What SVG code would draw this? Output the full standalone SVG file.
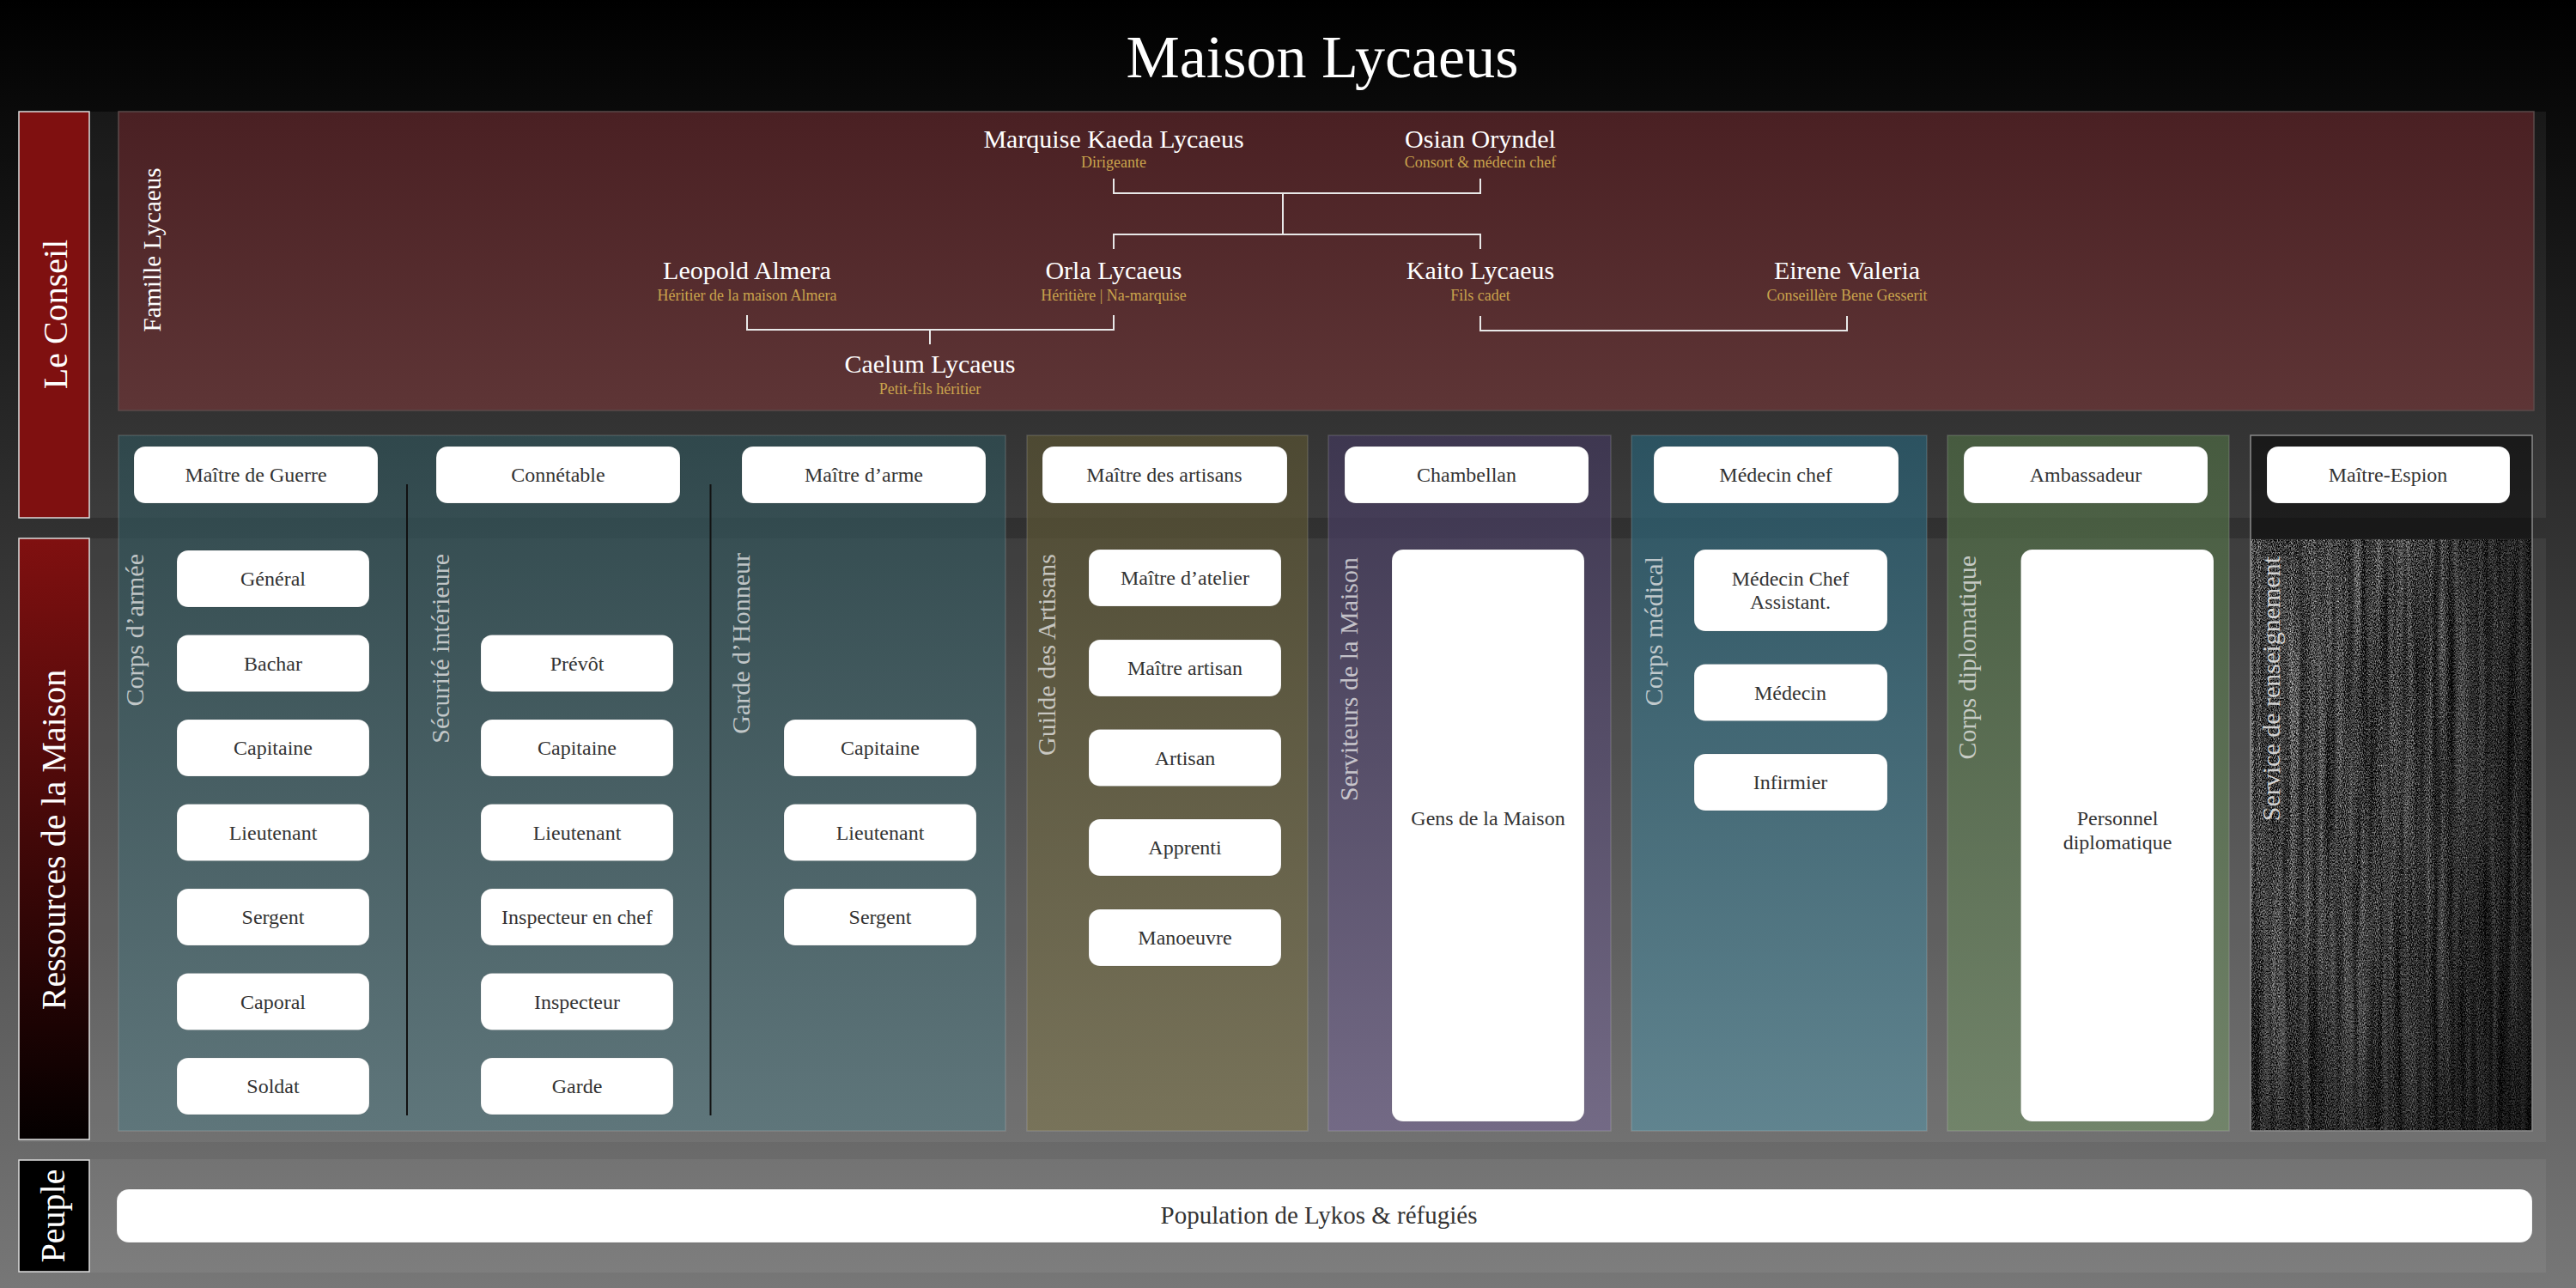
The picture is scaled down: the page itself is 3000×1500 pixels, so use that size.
<svg xmlns="http://www.w3.org/2000/svg" width="3000" height="1500" viewBox="0 0 3000 1500">
<defs>
  <linearGradient id="bg" gradientUnits="userSpaceOnUse" x1="0" y1="0" x2="0" y2="1500">
    <stop offset="0" stop-color="#000"/><stop offset="1" stop-color="#777"/>
  </linearGradient>
  <linearGradient id="fam" gradientUnits="userSpaceOnUse" x1="0" y1="130" x2="0" y2="478">
    <stop offset="0" stop-color="#4a2023"/><stop offset="1" stop-color="#5e3536"/>
  </linearGradient>
  <linearGradient id="resbar" gradientUnits="userSpaceOnUse" x1="0" y1="627" x2="0" y2="1327">
    <stop offset="0" stop-color="#801010"/><stop offset="1" stop-color="#040000"/>
  </linearGradient>
  <linearGradient id="gMil" gradientUnits="userSpaceOnUse" x1="0" y1="507" x2="0" y2="1317">
    <stop offset="0" stop-color="rgb(46,80,86)" stop-opacity="0.7"/><stop offset="1" stop-color="rgb(87,120,127)" stop-opacity="0.7"/>
  </linearGradient>
  <linearGradient id="gArt" gradientUnits="userSpaceOnUse" x1="0" y1="507" x2="0" y2="1317">
    <stop offset="0" stop-color="rgb(88,82,50)" stop-opacity="0.7"/><stop offset="1" stop-color="rgb(123,116,80)" stop-opacity="0.7"/>
  </linearGradient>
  <linearGradient id="gServ" gradientUnits="userSpaceOnUse" x1="0" y1="507" x2="0" y2="1317">
    <stop offset="0" stop-color="rgb(66,56,92)" stop-opacity="0.7"/><stop offset="1" stop-color="rgb(116,103,142)" stop-opacity="0.7"/>
  </linearGradient>
  <linearGradient id="gMed" gradientUnits="userSpaceOnUse" x1="0" y1="507" x2="0" y2="1317">
    <stop offset="0" stop-color="rgb(40,95,115)" stop-opacity="0.7"/><stop offset="1" stop-color="rgb(89,140,156)" stop-opacity="0.7"/>
  </linearGradient>
  <linearGradient id="gDip" gradientUnits="userSpaceOnUse" x1="0" y1="507" x2="0" y2="1317">
    <stop offset="0" stop-color="rgb(78,107,68)" stop-opacity="0.7"/><stop offset="1" stop-color="rgb(114,140,103)" stop-opacity="0.7"/>
  </linearGradient>
  <linearGradient id="espShadeX" x1="0" y1="0" x2="1" y2="0">
    <stop offset="0" stop-color="#000" stop-opacity="0.05"/><stop offset="0.55" stop-color="#000" stop-opacity="0.15"/><stop offset="1" stop-color="#000" stop-opacity="0.55"/>
  </linearGradient>
  <linearGradient id="espShadeY" x1="0" y1="0" x2="0" y2="1">
    <stop offset="0" stop-color="#000" stop-opacity="0"/><stop offset="0.6" stop-color="#000" stop-opacity="0.08"/><stop offset="1" stop-color="#000" stop-opacity="0.4"/>
  </linearGradient>
  <filter id="grain" x="0" y="0" width="1" height="1" color-interpolation-filters="sRGB">
    <feTurbulence type="fractalNoise" baseFrequency="0.95 0.55" numOctaves="2" seed="7" result="g"/>
    <feColorMatrix in="g" type="matrix" values="1 0 0 0 0  1 0 0 0 0  1 0 0 0 0  0 0 0 0 1" result="g2"/>
    <feTurbulence type="fractalNoise" baseFrequency="0.12 0.003" numOctaves="3" seed="3" result="s"/>
    <feColorMatrix in="s" type="matrix" values="1 0 0 0 0  1 0 0 0 0  1 0 0 0 0  0 0 0 0 1" result="s2"/>
    <feComposite in="g2" in2="s2" operator="arithmetic" k1="0" k2="1.6" k3="0.6" k4="-0.82" result="c"/>
    <feColorMatrix in="c" type="matrix" values="1 0 0 0 0  1 0 0 0 0  1 0 0 0 0  0 0 0 0 1"/>
  </filter>
  <style>
    .rowbody { fill: #fff; fill-opacity: 0.06; }
    .hdr { stroke: #dddddd; stroke-width: 1.5; }
    .hdrtxt { font-family: "Liberation Serif", serif; font-size: 40px; fill: #fff; text-anchor: middle; }
    .lane { stroke: #ffffff; stroke-opacity: 0.14; stroke-width: 1.5; }
    .lanelbl { font-family: "Liberation Serif", serif; font-size: 30px; fill: #ececec; fill-opacity: 0.75; text-anchor: end; }
    .box { fill: #fff; stroke: #000; stroke-opacity: 0.08; stroke-width: 1; }
    .bt { font-family: "Liberation Serif", serif; font-size: 24px; fill: #333; text-anchor: middle; }
    .pop { font-size: 29px; }
    .name { font-family: "Liberation Serif", serif; font-size: 30px; fill: #fff; text-anchor: middle; }
    .sub { font-family: "Liberation Serif", serif; font-size: 18px; fill: #c9a24c; text-anchor: middle; }
    .conn { fill: none; stroke: #e8e8e8; stroke-width: 2; }
    .div { stroke: #111; stroke-width: 2; }
  </style>
</defs>

<!-- background -->
<rect x="0" y="0" width="3000" height="1500" fill="url(#bg)"/>
<text x="1540" y="90" font-family="'Liberation Serif', serif" font-size="70" fill="#fff" text-anchor="middle">Maison Lycaeus</text>

<!-- row bodies -->
<rect class="rowbody" x="22" y="130" width="2943" height="473"/>
<rect class="rowbody" x="22" y="627" width="2943" height="703"/>
<rect class="rowbody" x="22" y="1350" width="2943" height="132"/>

<!-- row headers -->
<g id="row-conseil">
  <rect class="hdr" x="22" y="130" width="82" height="473" fill="#7f1010"/>
  <text class="hdrtxt" transform="translate(78,366) rotate(-90)">Le Conseil</text>
</g>
<g id="row-ressources">
  <rect class="hdr" x="22" y="627" width="82" height="700" fill="url(#resbar)"/>
  <text class="hdrtxt" transform="translate(76,978) rotate(-90)">Ressources de la Maison</text>
</g>
<g id="row-peuple">
  <rect class="hdr" x="22" y="1351" width="82" height="130" fill="#000"/>
  <text class="hdrtxt" transform="translate(75,1416) rotate(-90)">Peuple</text>
</g>

<!-- family panel -->
<g id="famille">
  <rect x="138" y="130" width="2813" height="348" fill="url(#fam)" stroke="#5a4a4a" stroke-width="1.5"/>
  <text transform="translate(187,291) rotate(-90)" font-family="'Liberation Serif', serif" font-size="29" fill="#fff" text-anchor="middle">Famille Lycaeus</text>
</g>

<!-- lanes -->
<g id="lane-militaire">
  <rect class="lane" x="138" y="507" width="1033" height="810" fill="url(#gMil)"/>
  <line class="div" x1="474" y1="564" x2="474" y2="1299"/>
  <line class="div" x1="827.5" y1="564" x2="827.5" y2="1299"/>
  <text class="lanelbl" transform="translate(167,645) rotate(-90)">Corps d’armée</text>
  <text class="lanelbl" transform="translate(523,645) rotate(-90)">Sécurité intérieure</text>
  <text class="lanelbl" transform="translate(873,644) rotate(-90)">Garde d’Honneur</text>
</g>
<g id="lane-artisans">
  <rect class="lane" x="1196" y="507" width="327" height="810" fill="url(#gArt)"/>
  <text class="lanelbl" transform="translate(1229,645) rotate(-90)">Guilde des Artisans</text>
</g>
<g id="lane-serviteurs">
  <rect class="lane" x="1547" y="507" width="329" height="810" fill="url(#gServ)"/>
  <text class="lanelbl" transform="translate(1581,649) rotate(-90)">Serviteurs de la Maison</text>
</g>
<g id="lane-medical">
  <rect class="lane" x="1900" y="507" width="344" height="810" fill="url(#gMed)"/>
  <text class="lanelbl" transform="translate(1936,648) rotate(-90)">Corps médical</text>
</g>
<g id="lane-diplomatique">
  <rect class="lane" x="2268" y="507" width="328" height="810" fill="url(#gDip)"/>
  <text class="lanelbl" transform="translate(2301,647) rotate(-90)">Corps diplomatique</text>
</g>
<g id="lane-espion">
  <rect x="2621" y="507" width="328" height="121" fill="#000" fill-opacity="0.5"/>
  <rect x="2621" y="628" width="328" height="689" fill="#1a1a1a"/>
  <rect x="2621" y="628" width="328" height="689" fill="#fff" filter="url(#grain)"/>
  <rect x="2621" y="628" width="328" height="689" fill="url(#espShadeX)"/>
  <rect x="2621" y="628" width="328" height="689" fill="url(#espShadeY)"/>
  <rect x="2621" y="507" width="328" height="810" fill="none" stroke="#8a8a8a" stroke-width="1.5"/>
  <text class="lanelbl" transform="translate(2655,648) rotate(-90)" style="fill-opacity:0.85">Service de renseignement</text>
</g>

<!-- connectors -->
<g id="connectors">
  <path class="conn" d="M1297,208 V225 H1724 V208"/>
  <path class="conn" d="M1494,225 V273"/>
  <path class="conn" d="M1297,290 V273 H1724 V290"/>
  <path class="conn" d="M870,367 V384 H1297 V367"/>
  <path class="conn" d="M1083,384 V401"/>
  <path class="conn" d="M1724,368 V385 H2151 V368"/>
</g>

<!-- family nodes -->
<g id="marquise"><text class="name" x="1297" y="172">Marquise Kaeda Lycaeus</text><text class="sub" x="1297" y="195">Dirigeante</text></g>
<g id="osian"><text class="name" x="1724" y="172">Osian Oryndel</text><text class="sub" x="1724" y="195">Consort &amp; médecin chef</text></g>
<g id="leopold"><text class="name" x="870" y="325">Leopold Almera</text><text class="sub" x="870" y="350">Héritier de la maison Almera</text></g>
<g id="orla"><text class="name" x="1297" y="325">Orla Lycaeus</text><text class="sub" x="1297" y="350">Héritière | Na-marquise</text></g>
<g id="kaito"><text class="name" x="1724" y="325">Kaito Lycaeus</text><text class="sub" x="1724" y="350">Fils cadet</text></g>
<g id="eirene"><text class="name" x="2151" y="325">Eirene Valeria</text><text class="sub" x="2151" y="350">Conseillère Bene Gesserit</text></g>
<g id="caelum"><text class="name" x="1083" y="434">Caelum Lycaeus</text><text class="sub" x="1083" y="459">Petit-fils héritier</text></g>

<!-- council heads -->
<g id="maitre-guerre"><rect class="box" x="156" y="520" width="284" height="66" rx="13"/><text class="bt" x="298" y="561">Maître de Guerre</text></g>
<g id="connetable"><rect class="box" x="508" y="520" width="284" height="66" rx="13"/><text class="bt" x="650" y="561">Connétable</text></g>
<g id="maitre-arme"><rect class="box" x="864" y="520" width="284" height="66" rx="13"/><text class="bt" x="1006" y="561">Maître d’arme</text></g>
<g id="maitre-artisans"><rect class="box" x="1214" y="520" width="285" height="66" rx="13"/><text class="bt" x="1356" y="561">Maître des artisans</text></g>
<g id="chambellan"><rect class="box" x="1566" y="520" width="284" height="66" rx="13"/><text class="bt" x="1708" y="561">Chambellan</text></g>
<g id="medecin-chef"><rect class="box" x="1926" y="520" width="285" height="66" rx="13"/><text class="bt" x="2068" y="561">Médecin chef</text></g>
<g id="ambassadeur"><rect class="box" x="2287" y="520" width="284" height="66" rx="13"/><text class="bt" x="2429" y="561">Ambassadeur</text></g>
<g id="maitre-espion"><rect class="box" x="2640" y="520" width="283" height="66" rx="13"/><text class="bt" x="2781" y="561">Maître-Espion</text></g>

<!-- corps d'armee -->
<g id="general"><rect class="box" x="206" y="641" width="224" height="66" rx="13"/><text class="bt" x="318" y="682">Général</text></g>
<g id="bachar"><rect class="box" x="206" y="739.5" width="224" height="66" rx="13"/><text class="bt" x="318" y="780.5">Bachar</text></g>
<g id="armee-capitaine"><rect class="box" x="206" y="838" width="224" height="66" rx="13"/><text class="bt" x="318" y="879">Capitaine</text></g>
<g id="armee-lieutenant"><rect class="box" x="206" y="936.5" width="224" height="66" rx="13"/><text class="bt" x="318" y="977.5">Lieutenant</text></g>
<g id="armee-sergent"><rect class="box" x="206" y="1035" width="224" height="66" rx="13"/><text class="bt" x="318" y="1076">Sergent</text></g>
<g id="caporal"><rect class="box" x="206" y="1133.5" width="224" height="66" rx="13"/><text class="bt" x="318" y="1174.5">Caporal</text></g>
<g id="soldat"><rect class="box" x="206" y="1232" width="224" height="66" rx="13"/><text class="bt" x="318" y="1273">Soldat</text></g>

<!-- securite -->
<g id="prevot"><rect class="box" x="560" y="739.5" width="224" height="66" rx="13"/><text class="bt" x="672" y="780.5">Prévôt</text></g>
<g id="secu-capitaine"><rect class="box" x="560" y="838" width="224" height="66" rx="13"/><text class="bt" x="672" y="879">Capitaine</text></g>
<g id="secu-lieutenant"><rect class="box" x="560" y="936.5" width="224" height="66" rx="13"/><text class="bt" x="672" y="977.5">Lieutenant</text></g>
<g id="inspecteur-chef"><rect class="box" x="560" y="1035" width="224" height="66" rx="13"/><text class="bt" x="672" y="1076">Inspecteur en chef</text></g>
<g id="inspecteur"><rect class="box" x="560" y="1133.5" width="224" height="66" rx="13"/><text class="bt" x="672" y="1174.5">Inspecteur</text></g>
<g id="garde"><rect class="box" x="560" y="1232" width="224" height="66" rx="13"/><text class="bt" x="672" y="1273">Garde</text></g>

<!-- garde d'honneur -->
<g id="gh-capitaine"><rect class="box" x="913" y="838" width="224" height="66" rx="13"/><text class="bt" x="1025" y="879">Capitaine</text></g>
<g id="gh-lieutenant"><rect class="box" x="913" y="936.5" width="224" height="66" rx="13"/><text class="bt" x="1025" y="977.5">Lieutenant</text></g>
<g id="gh-sergent"><rect class="box" x="913" y="1035" width="224" height="66" rx="13"/><text class="bt" x="1025" y="1076">Sergent</text></g>

<!-- artisans -->
<g id="maitre-atelier"><rect class="box" x="1268" y="640" width="224" height="66" rx="13"/><text class="bt" x="1380" y="681">Maître d’atelier</text></g>
<g id="maitre-artisan"><rect class="box" x="1268" y="745" width="224" height="66" rx="13"/><text class="bt" x="1380" y="786">Maître artisan</text></g>
<g id="artisan"><rect class="box" x="1268" y="849.5" width="224" height="66" rx="13"/><text class="bt" x="1380" y="890.5">Artisan</text></g>
<g id="apprenti"><rect class="box" x="1268" y="954" width="224" height="66" rx="13"/><text class="bt" x="1380" y="995">Apprenti</text></g>
<g id="manoeuvre"><rect class="box" x="1268" y="1059" width="224" height="66" rx="13"/><text class="bt" x="1380" y="1100">Manoeuvre</text></g>

<!-- serviteurs -->
<g id="gens-maison"><rect class="box" x="1621" y="640" width="224" height="666" rx="13"/><text class="bt" x="1733" y="961">Gens de la Maison</text></g>

<!-- medical -->
<g id="medecin-assistant"><rect class="box" x="1973" y="640" width="225" height="95" rx="13"/><text class="bt" x="2085" y="682">Médecin Chef</text><text class="bt" x="2085" y="709">Assistant.</text></g>
<g id="medecin"><rect class="box" x="1973" y="773.5" width="225" height="66" rx="13"/><text class="bt" x="2085" y="814.5">Médecin</text></g>
<g id="infirmier"><rect class="box" x="1973" y="878" width="225" height="66" rx="13"/><text class="bt" x="2085" y="919">Infirmier</text></g>

<!-- diplomatique -->
<g id="personnel-diplo"><rect class="box" x="2353.5" y="640" width="224.5" height="666" rx="13"/><text class="bt" x="2466" y="961">Personnel</text><text class="bt" x="2466" y="989">diplomatique</text></g>

<!-- peuple -->
<g id="population"><rect class="box" x="136" y="1385" width="2813" height="62" rx="14"/><text class="bt pop" x="1536" y="1425">Population de Lykos &amp; réfugiés</text></g>
</svg>
